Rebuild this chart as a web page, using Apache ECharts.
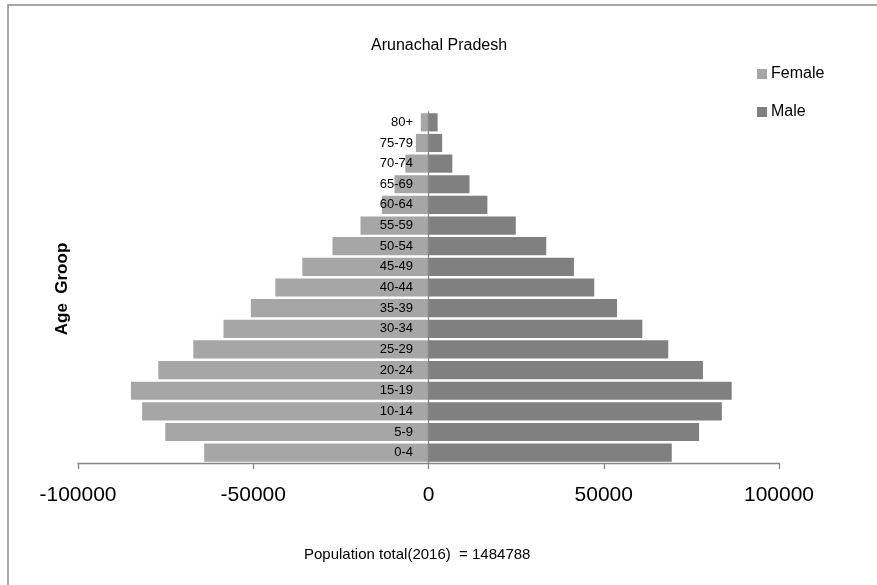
<!DOCTYPE html>
<html>
<head>
<meta charset="utf-8">
<script src="https://cdn.jsdelivr.net/npm/echarts@6/dist/echarts.min.js"></script>
<style>
html,body{margin:0;padding:0;background:#fff;}
#chart{width:877px;height:585px;}
</style>
</head>
<body>
<div id="chart"></div>
<script>
var ageGroups = ['0-4','5-9','10-14','15-19','20-24','25-29','30-34','35-39','40-44','45-49','50-54','55-59','60-64','65-69','70-74','75-79','80+'];
var femaleValues = [-64000,-75100,-81700,-84900,-77100,-67100,-58500,-50700,-43700,-36000,-27400,-19400,-13300,-9700,-6600,-3600,-2200];
var maleValues = [69400,77200,83700,86500,78300,68400,61000,53800,47300,41500,33600,24900,16800,11700,6800,3900,2600];
var xTicks = [-100000,-50000,0,50000,100000];
var chartTitle = 'Arunachal Pradesh';
var footNote = 'Population total(2016)  = 1484788';
var yName = 'Age  Groop';

var FONT = '"Liberation Sans", Arial, sans-serif';
var chart = echarts.init(document.getElementById('chart'));
chart.setOption({
  animation: false,
  backgroundColor: '#fff',
  textStyle: {fontFamily: FONT},
  title: [
    {text: chartTitle, left: 366, top: 33,
     textStyle: {fontSize: 16, fontWeight: 'normal', color: '#000', fontFamily: FONT}},
    {text: footNote, left: 299, top: 542,
     textStyle: {fontSize: 15, fontWeight: 'normal', color: '#000', fontFamily: FONT}}
  ],
  legend: {
    data: ['Female','Male'],
    orient: 'vertical',
    left: 752, top: 61,
    itemWidth: 10, itemHeight: 10, itemGap: 22,
    icon: 'rect',
    textStyle: {fontSize: 16, color: '#000', fontFamily: FONT, padding: [0,0,0,-1]}
  },
  grid: {left: 78, right: 98, top: 112, bottom: 122, containLabel: false},
  xAxis: {
    type: 'value',
    min: xTicks[0], max: xTicks[xTicks.length-1], interval: 50000,
    splitLine: {show: false},
    axisLine: {show: true, lineStyle: {color: '#868686', width: 1.3}},
    axisTick: {show: true, length: 6, lineStyle: {color: '#868686', width: 1.3}},
    axisLabel: {fontSize: 21, color: '#000', margin: 22, fontFamily: FONT,
      formatter: function(v){ return String(v); }}
  },
  yAxis: {
    type: 'category',
    data: ageGroups,
    z: 10,
    offset: -350,
    axisLine: {show: true, onZero: false, lineStyle: {color: '#868686', width: 1.3}},
    axisTick: {show: false},
    axisLabel: {fontSize: 13, color: '#000', margin: 15, fontFamily: FONT}
  },
  graphic: [
    {type: 'rect', shape: {x: 8, y: 5, width: 1000, height: 1000},
     style: {fill: 'none', stroke: '#8c8c8c', lineWidth: 1.5}, silent: true},
    {type: 'text', x: 62, y: 289, rotation: Math.PI/2,
     style: {text: yName, fontSize: 17, fontWeight: 'bold', fontFamily: FONT, fill: '#000', align: 'center', verticalAlign: 'middle'}}
  ],
  series: [
    {name: 'Female', type: 'bar', data: femaleValues, barGap: '-100%', barCategoryGap: '12%',
     itemStyle: {color: '#a6a6a6'}},
    {name: 'Male', type: 'bar', data: maleValues, barGap: '-100%', barCategoryGap: '12%',
     itemStyle: {color: '#808080'}}
  ]
});
</script>
</body>
</html>
